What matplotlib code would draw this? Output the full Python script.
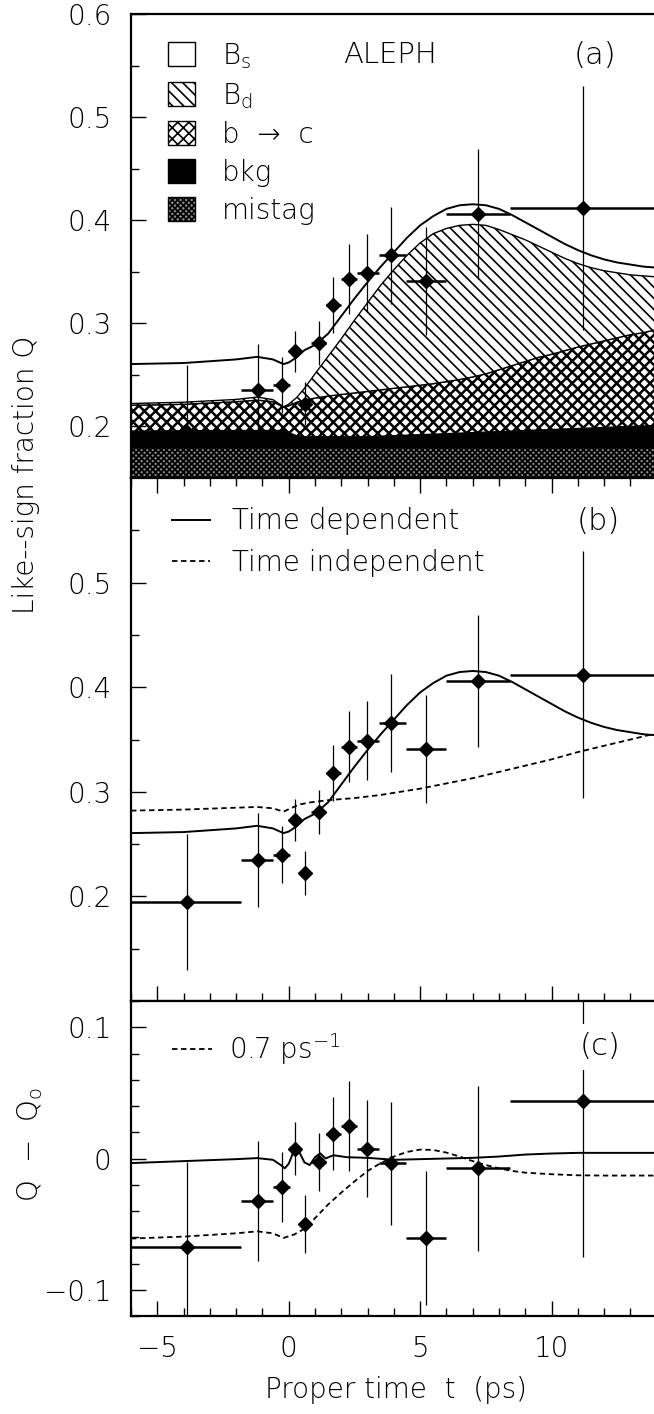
import matplotlib
matplotlib.use("Agg")
import matplotlib.pyplot as plt
from matplotlib.patches import Patch
from matplotlib.lines import Line2D
from matplotlib.ticker import MultipleLocator, FixedLocator, FuncFormatter
import numpy as np

# measured like-sign fraction, same proper-time bins in every panel
t_pts = [-3.86, -1.18, -0.27, 0.24, 0.63, 1.15, 1.69, 2.28, 2.99, 3.89, 5.23, 7.21, 11.2]
bin_lo = [-6.0, -1.8, -0.6, 0.05, 0.45, 0.85, 1.42, 2.0, 2.6, 3.42, 4.45, 6.0, 8.4]
bin_hi = [-1.8, -0.6, 0.05, 0.45, 0.85, 1.42, 2.0, 2.6, 3.42, 4.45, 6.0, 8.4, 14.0]
q_pts = [0.195, 0.235, 0.240, 0.273, 0.222, 0.281, 0.318, 0.343, 0.349, 0.366, 0.341, 0.406, 0.412]
q_err = [0.065, 0.045, 0.027, 0.020, 0.021, 0.021, 0.027, 0.034, 0.038, 0.047, 0.052, 0.063, 0.118]
dq_pts = [-0.0675, -0.0324, -0.0217, 0.0076, -0.0497, -0.0025, 0.019, 0.0247, 0.0076, -0.0038, -0.0606, -0.0076, 0.0438]
dq_err = [0.065, 0.046, 0.027, 0.020, 0.022, 0.022, 0.028, 0.034, 0.037, 0.047, 0.051, 0.063, 0.119]

# fit components (panel a) on one time grid; q_td is also the time dependent fit
t_grid = [-6, -4, -2, -1.2, -0.6, -0.2, 0, 0.3, 0.6, 1.0, 1.5, 2.0, 2.5, 3.0, 3.5, 4.0, 4.5, 5.0,
          5.5, 6.0, 6.5, 7.0, 7.5, 8.0, 8.5, 9.0, 9.5, 10.0, 10.5, 11.0, 11.5, 12.0, 12.5, 13.0,
          13.5, 14.0, 15.0]
q_td = [0.2605, 0.2615, 0.265, 0.2675, 0.265, 0.2605, 0.262, 0.267, 0.274, 0.279, 0.290, 0.307,
        0.324, 0.340, 0.355, 0.369, 0.383, 0.395, 0.404, 0.411, 0.4145, 0.4155, 0.4145, 0.411,
        0.405, 0.398, 0.391, 0.384, 0.377, 0.371, 0.366, 0.362, 0.359, 0.357, 0.355, 0.354, 0.353]
q_bd = [0.2222, 0.2235, 0.2262, 0.2285, 0.226, 0.219, 0.2215, 0.228, 0.237, 0.251, 0.268, 0.285,
        0.303, 0.320, 0.337, 0.352, 0.366, 0.378, 0.387, 0.392, 0.395, 0.396, 0.395, 0.391,
        0.386, 0.381, 0.375, 0.369, 0.363, 0.358, 0.354, 0.351, 0.349, 0.347, 0.346, 0.345, 0.344]
q_bc = [0.2205, 0.2215, 0.224, 0.2255, 0.224, 0.2188, 0.220, 0.2235, 0.2255, 0.2275, 0.2295, 0.231,
        0.2325, 0.234, 0.2355, 0.237, 0.2385, 0.240, 0.2415, 0.2435, 0.2455, 0.248, 0.251, 0.255,
        0.259, 0.263, 0.267, 0.270, 0.2735, 0.277, 0.280, 0.283, 0.286, 0.289, 0.291, 0.294, 0.299]
q_bkg = [0.1955, 0.1958, 0.196, 0.196, 0.196, 0.196, 0.194, 0.191, 0.190, 0.190, 0.190, 0.190,
         0.190, 0.190, 0.1905, 0.191, 0.1915, 0.192, 0.1925, 0.193, 0.1935, 0.194, 0.1945, 0.195,
         0.1955, 0.196, 0.1965, 0.197, 0.1975, 0.198, 0.1985, 0.199, 0.1995, 0.200, 0.2005, 0.201, 0.202]
q_mistag = [0.18] * len(t_grid)

# time independent fit (panel b)
t_ti = [-6, -4, -2, -1.2, -0.6, -0.2, 0.1, 0.4, 0.8, 1.5, 2.5, 3.5, 4.5, 5.0, 6.0, 7.0, 8.0, 9.0,
        10.0, 11.0, 12.0, 13.0, 14.0, 15.0]
q_ti = [0.282, 0.283, 0.2848, 0.2855, 0.2842, 0.281, 0.2845, 0.2878, 0.2898, 0.292, 0.294, 0.297,
        0.301, 0.303, 0.308, 0.313, 0.319, 0.325, 0.331, 0.338, 0.344, 0.350, 0.356, 0.362]

# panel c: Q - Q0
t_c_td = [-6, -4, -2, -1.2, -0.6, -0.3, -0.15, 0.0, 0.2, 0.4, 0.6, 0.8, 1.0, 1.2, 1.4, 1.7, 2.2,
          3, 4, 5, 6, 7, 8, 9, 10, 11, 12, 14, 15]
dq_td = [-0.0035, -0.002, -0.0005, 0.0003, -0.001, -0.005, -0.0075, -0.004, 0.006, 0.005, -0.003,
         -0.005, 0.001, 0.004, 0.0, 0.0025, 0.001, 0.0005, -0.001, -0.0005, 0.0, 0.0005, 0.0015,
         0.003, 0.0038, 0.0043, 0.0043, 0.0043, 0.0043]
t_c_ti = [-6, -4, -2, -1.2, -0.6, -0.2, 0.2, 0.6, 1.0, 1.5, 2.0, 2.5, 3.0, 3.5, 4.0, 4.5, 5.0, 5.5,
          6.0, 6.5, 7.0, 7.5, 8.0, 8.5, 9.0, 10.0, 11.0, 12.0, 14.0, 15.0]
dq_ti = [-0.061, -0.0595, -0.057, -0.0555, -0.057, -0.0605, -0.058, -0.0535, -0.0455, -0.035,
         -0.026, -0.0175, -0.0095, -0.0035, 0.0015, 0.005, 0.0068, 0.0065, 0.0045, 0.0015, -0.002,
         -0.005, -0.0075, -0.0095, -0.0108, -0.012, -0.0128, -0.013, -0.013, -0.013]

plt.rcParams["font.family"] = ["DejaVu Sans"]
plt.rcParams["font.weight"] = 200
plt.rcParams["font.size"] = 20
plt.rcParams["mathtext.default"] = "regular"
plt.rcParams["hatch.linewidth"] = 1.2

fig = plt.figure(figsize=(6.54, 14.14), dpi=100)
L, W = 131 / 654, 552 / 654
ax_a = fig.add_axes([L, 936 / 1414, W, 464 / 1414])
ax_b = fig.add_axes([L, 413 / 1414, W, 523 / 1414])
ax_c = fig.add_axes([L, 98 / 1414, W, 315 / 1414])


def fmt(v, pos):
    if abs(v) < 1e-9:
        return "0"
    return f"{v:g}".replace("-", "\u2212")


def style(ax, top, bottom):
    ax.set_xlim(-6, 15)
    ax.xaxis.set_major_locator(FixedLocator([-5, 0, 5, 10]))
    ax.xaxis.set_minor_locator(MultipleLocator(1))
    ax.tick_params(axis="x", which="both", direction="in", top=top, bottom=bottom,
                   labelbottom=False, width=1)
    ax.tick_params(axis="y", which="both", direction="in", right=False, width=1)
    ax.tick_params(which="major", length=11, pad=14)
    ax.tick_params(which="minor", length=6)
    ax.yaxis.set_major_formatter(FuncFormatter(fmt))
    for s in ax.spines.values():
        s.set_linewidth(1.6)


t_arr = np.array(t_pts)
xerr = [t_arr - np.array(bin_lo), np.array(bin_hi) - t_arr]
dash = (0, (3, 2))

# ---- panel (a)
ax = ax_a
with plt.rc_context({"hatch.linewidth": 1.3}):
    ax.fill_between(t_grid, 0, q_mistag, facecolor="#8a8a8a", edgecolor="black",
                    hatch="xxxxxx", lw=0.8)
ax.fill_between(t_grid, q_mistag, q_bkg, facecolor="black", edgecolor="black", lw=0.8)
with plt.rc_context({"hatch.linewidth": 1.8}):
    ax.fill_between(t_grid, q_bkg, q_bc, facecolor="white", edgecolor="black", hatch="xxx", lw=1)
ax.fill_between(t_grid, q_bc, q_bd, facecolor="white", edgecolor="black", hatch="\\\\\\", lw=1)
ax.plot(t_grid, q_td, color="black", lw=1.4)
ax.errorbar(t_arr, q_pts, yerr=q_err, fmt="none", ecolor="black", elinewidth=0.9)
ax.errorbar(t_arr, q_pts, xerr=xerr, fmt="none", ecolor="black", elinewidth=1.8)
ax.plot(t_arr, q_pts, "D", color="black", ms=7)
ax.set_ylim(0.15, 0.6)
ax.yaxis.set_major_locator(FixedLocator([0.2, 0.3, 0.4, 0.5, 0.6]))
ax.yaxis.set_minor_locator(FixedLocator([0.25, 0.35, 0.45, 0.55]))
style(ax, False, False)
ax.tick_params(axis="x", which="both", length=0)
handles = [Patch(facecolor="white", edgecolor="black", lw=1),
           Patch(facecolor="white", edgecolor="black", hatch="\\\\\\", lw=1),
           Patch(facecolor="white", edgecolor="black", hatch="xxx", lw=1),
           Patch(facecolor="black", edgecolor="black", lw=1),
           Patch(facecolor="#8a8a8a", edgecolor="black", hatch="xxxxxx", lw=1)]
labels = ["B$_s$", "B$_d$", "b  \u2192  c", "bkg", "mistag"]
ax.legend(handles, labels, loc="upper left", bbox_to_anchor=(0.067, 0.942), frameon=False,
          borderpad=0, borderaxespad=0, handlelength=0.97, handleheight=0.94,
          handletextpad=0.97, labelspacing=0.36)
ax.text(0.469, 0.9116, "ALEPH", transform=ax.transAxes, ha="center", va="center", fontsize=21)
ax.text(0.8406, 0.9116, "(a)", transform=ax.transAxes, ha="center", va="center", fontsize=22)

# ---- panel (b)
ax = ax_b
ax.plot(t_grid, q_td, color="black", lw=1.4)
ax.plot(t_ti, q_ti, color="black", lw=1.3, ls=dash)
ax.errorbar(t_arr, q_pts, yerr=q_err, fmt="none", ecolor="black", elinewidth=0.9)
ax.errorbar(t_arr, q_pts, xerr=xerr, fmt="none", ecolor="black", elinewidth=1.8)
ax.plot(t_arr, q_pts, "D", color="black", ms=7)
ax.set_ylim(0.1, 0.6)
ax.yaxis.set_major_locator(FixedLocator([0.2, 0.3, 0.4, 0.5]))
ax.yaxis.set_minor_locator(FixedLocator([0.15, 0.25, 0.35, 0.45, 0.55]))
style(ax, True, True)
hb = [Line2D([], [], color="black", lw=1.4), Line2D([], [], color="black", lw=1.3, ls=dash)]
ax.legend(hb, ["Time dependent", "Time independent"], loc="upper left",
          bbox_to_anchor=(0.074, 0.944), frameon=False, borderpad=0, borderaxespad=0,
          handlelength=1.37, handletextpad=0.8, labelspacing=0.5)
ax.text(0.846, 0.916, "(b)", transform=ax.transAxes, ha="center", va="center", fontsize=22)

# ---- panel (c)
ax = ax_c
ax.plot(t_c_td, dq_td, color="black", lw=1.4)
ax.plot(t_c_ti, dq_ti, color="black", lw=1.3, ls=dash)
ax.errorbar(t_arr, dq_pts, yerr=dq_err, fmt="none", ecolor="black", elinewidth=0.9)
ax.errorbar(t_arr, dq_pts, xerr=xerr, fmt="none", ecolor="black", elinewidth=1.8)
ax.plot(t_arr, dq_pts, "D", color="black", ms=7)
ax.set_ylim(-0.12, 0.12)
ax.yaxis.set_major_locator(FixedLocator([-0.1, 0, 0.1]))
ax.yaxis.set_minor_locator(MultipleLocator(0.02))
style(ax, False, True)
ax.tick_params(axis="x", labelbottom=True)
hc = [Line2D([], [], color="black", lw=1.3, ls=dash)]
ax.legend(hc, ["0.7 ps$^{-1}$"], loc="upper left", bbox_to_anchor=(0.074, 0.905),
          frameon=False, borderpad=0, borderaxespad=0, handlelength=1.45, handletextpad=0.6)
ax.text(0.85, 0.854, "(c)", transform=ax.transAxes, ha="center", va="center", fontsize=22,
        bbox=dict(facecolor="white", edgecolor="none", pad=6), zorder=5)

fig.text(26 / 654, 1 - 475 / 1414, "Like--sign fraction Q", rotation=90, ha="center", va="center")
fig.text(30 / 654, 1 - 1145 / 1414, "Q  \u2212  Q$_o$", rotation=90, ha="center", va="center")
fig.text(396 / 654, 1 - 1390 / 1414, "Proper time  t  (ps)", ha="center", va="center")

fig.savefig("out.png", dpi=100)
